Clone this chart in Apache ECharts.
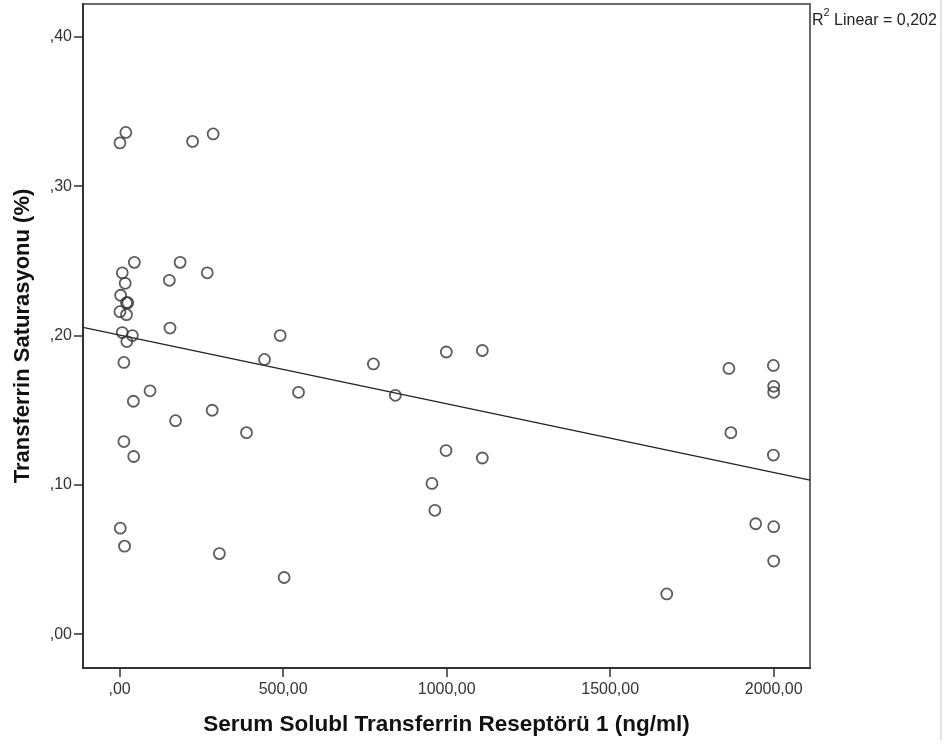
<!DOCTYPE html>
<html>
<head>
<meta charset="utf-8">
<title>Transferrin Saturasyonu</title>
<script src="https://cdn.jsdelivr.net/npm/echarts@6/dist/echarts.min.js"></script>
<style>
  html, body { margin: 0; padding: 0; background: #fff; }
  #chart { width: 947px; height: 747px; }
</style>
</head>
<body>
<div id="chart"></div>
<script>
// serum sTfR (ng/ml)
var xValues = [
  1, 19, 223, 286,
  45, 185, 268, 8, 152, 17, 3, 21, 25, 1, 21, 154, 8, 39, 22, 491,
  13, 443, 93, 547, 42, 283, 171, 388, 13, 43,
  2, 15, 305, 503,
  776, 843, 999, 1109, 998, 1109, 955, 964,
  1863, 1999, 2000, 2000, 1869, 1999,
  1945, 2000, 2000, 1673
];
// transferrin saturation
var yValues = [
  0.329, 0.336, 0.330, 0.335,
  0.249, 0.249, 0.242, 0.242, 0.237, 0.235, 0.227, 0.222, 0.222, 0.216, 0.214, 0.205, 0.202, 0.200, 0.196, 0.200,
  0.182, 0.184, 0.163, 0.162, 0.156, 0.150, 0.143, 0.135, 0.129, 0.119,
  0.071, 0.059, 0.054, 0.038,
  0.181, 0.160, 0.189, 0.190, 0.123, 0.118, 0.101, 0.083,
  0.178, 0.180, 0.166, 0.162, 0.135, 0.120,
  0.074, 0.072, 0.049, 0.027
];
var xTicks = [0, 500, 1000, 1500, 2000];
var yTicks = [0, 0.1, 0.2, 0.3, 0.4];
var xRange = [-112, 2111];
var yRange = [-0.0226, 0.422];
// linear fit, R2 = 0,202
var fitIntercept = 0.2003;
var fitSlope = -0.000046;
var r2Text = "0,202";

var points = xValues.map(function (x, i) { return [x, yValues[i]]; });
var fitLine = xRange.map(function (x) { return [x, fitIntercept + fitSlope * x]; });

function fmt(v) {
  var s = v.toFixed(2).replace(".", ",");
  if (s.indexOf("0,") === 0) s = s.slice(1);
  return s;
}

var myChart = echarts.init(document.getElementById("chart"));
myChart.setOption({
  animation: false,
  backgroundColor: "#fff",
  textStyle: { fontFamily: "Liberation Sans, Arial, sans-serif" },
  grid: {
    left: 83, top: 4, right: 137, bottom: 79,
    show: true,
    borderColor: "#6a6a6a",
    borderWidth: 2,
    backgroundColor: "#fff"
  },
  title: {
    left: 812, top: 7,
    padding: 0,
    text: "{r|R}{s|2}{r| Linear = " + r2Text + "}",
    textStyle: {
      fontWeight: "normal",
      rich: {
        r: { fontSize: 16, color: "#222", fontWeight: "normal", fontFamily: "Liberation Sans", verticalAlign: "bottom", lineHeight: 22 },
        s: { fontSize: 11, color: "#222", fontWeight: "normal", fontFamily: "Liberation Sans", verticalAlign: "top", lineHeight: 11 }
      }
    }
  },
  graphic: [{
    type: "line",
    shape: { x1: 941, y1: 0, x2: 941, y2: 740 },
    style: { stroke: "#ccc", lineWidth: 1 }
  }],
  xAxis: {
    type: "value",
    min: xRange[0], max: xRange[1],
    name: "Serum Solubl Transferrin Reseptörü 1 (ng/ml)",
    nameLocation: "middle",
    nameGap: 45,
    nameTextStyle: { fontSize: 22.5, fontWeight: "bold", color: "#111", fontFamily: "Liberation Sans" },
    axisLine: { show: true, onZero: false, lineStyle: { color: "#333", width: 2 } },
    axisTick: { show: true, inside: false, length: 9, customValues: xTicks, lineStyle: { color: "#333", width: 1.5 } },
    axisLabel: { customValues: xTicks, formatter: fmt, fontSize: 16, color: "#333", margin: 14 },
    splitLine: { show: false }
  },
  yAxis: {
    type: "value",
    min: yRange[0], max: yRange[1],
    name: "Transferrin Saturasyonu (%)",
    nameLocation: "middle",
    nameGap: 49,
    nameTextStyle: { fontSize: 22, fontWeight: "bold", color: "#111", fontFamily: "Liberation Sans" },
    axisLine: { show: true, onZero: false, lineStyle: { color: "#333", width: 2 } },
    axisTick: { show: true, inside: false, length: 9, customValues: yTicks, lineStyle: { color: "#333", width: 1.5 } },
    axisLabel: { customValues: yTicks, formatter: fmt, fontSize: 16, color: "#333", margin: 11 },
    splitLine: { show: false }
  },
  series: [
    {
      type: "line",
      data: fitLine,
      symbol: "none",
      lineStyle: { color: "#222", width: 1.3 },
      silent: true,
      z: 2
    },
    {
      type: "scatter",
      data: points,
      symbol: "circle",
      symbolSize: 11,
      itemStyle: { color: "rgba(0,0,0,0)", borderColor: "#333", borderWidth: 1.8 },
      z: 3
    }
  ]
});
</script>
</body>
</html>
